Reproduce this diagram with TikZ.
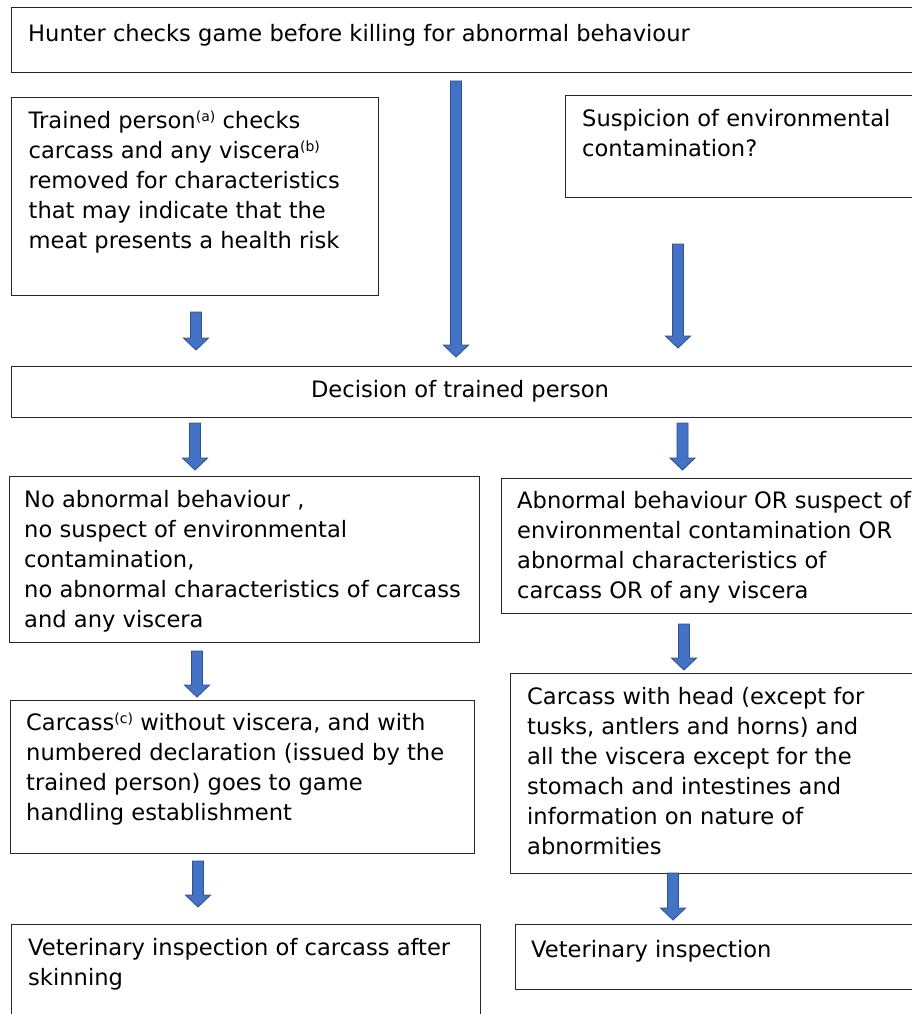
\documentclass[tikz,border=0pt]{standalone}
\usepackage{fontspec}
\setmainfont{DejaVu Sans}
\usetikzlibrary{calc}
\definecolor{arrowfill}{HTML}{4472C4}
\definecolor{arrowline}{HTML}{2F528F}
\definecolor{boxline}{HTML}{262626}
\newcommand{\supnote}[1]{\smash{\raisebox{7pt}{\fontsize{14}{14}\selectfont(#1)}}}
\tikzset{
  box/.style={draw=boxline, line width=1.3pt, inner sep=0pt, anchor=north west},
  txt/.style={inner sep=0pt, anchor=north west, align=left, font=\fontsize{22.6}{30}\selectfont},
  barrow/.style={fill=arrowfill, draw=arrowline, line width=0.9pt, line join=miter,
    to path={let \p1=(\tikztostart), \p2=(\tikztotarget) in
      (\x1-5.5pt,\y1) -- (\x1+5.5pt,\y1) -- (\x1+5.5pt,\y2+12pt) -- (\x1+12.5pt,\y2+12pt)
      -- (\x1,\y2) -- (\x1-12.5pt,\y2+12pt) -- (\x1-5.5pt,\y2+12pt) -- cycle}}
}
\begin{document}
\begin{tikzpicture}[x=1pt,y=-1pt]
\useasboundingbox (0,0) rectangle (912,1014);
\clip (0,0) rectangle (912,1014);
\fill[white] (0,0) rectangle (912,1014);

% boxes
\node[box, minimum width=919pt, minimum height=65pt] (hunt) at (11,7) {};
\node[box, minimum width=367pt, minimum height=198pt] (train) at (11,97) {};
\node[box, minimum width=365pt, minimum height=102pt] (susp) at (565,95) {};
\node[box, minimum width=919pt, minimum height=51pt] (dec) at (11,366) {};
\node[box, minimum width=470pt, minimum height=166pt] (noab) at (9,476) {};
\node[box, minimum width=429pt, minimum height=135pt] (abn) at (501,478) {};
\node[box, minimum width=464pt, minimum height=153pt] (carc) at (10,700) {};
\node[box, minimum width=420pt, minimum height=200pt] (head) at (510,673) {};
\node[box, minimum width=469pt, minimum height=110pt] (vetl) at (11,924) {};
\node[box, minimum width=415pt, minimum height=65pt] (vetr) at (515,924) {};

% texts
\node[txt] (thunt) at (28,24.5) {Hunter checks game before killing for abnormal behaviour};
\node[txt] (ttrain) at (28.5,111) {Trained person\supnote{a} checks\\carcass and any viscera\supnote{b}\\removed for characteristics\\that may indicate that the\\meat presents a health risk};
\node[txt] (tsusp) at (582,109.5) {Suspicion of environmental\\contamination?};
\node[txt, anchor=north, align=center] (tdec) at (460,380.5) {Decision of trained person};
\node[txt] (tnoab) at (24,490) {No abnormal behaviour ,\\no suspect of environmental\\contamination,\\no abnormal characteristics of carcass\\and any viscera};
\node[txt] (tabn) at (517,491) {Abnormal behaviour OR suspect of\\environmental contamination OR\\abnormal characteristics of\\carcass OR of any viscera};
\node[txt] (tcarc) at (26,713.5) {Carcass\supnote{c} without viscera, and with\\numbered declaration (issued by the\\trained person) goes to game\\handling establishment};
\node[txt] (thead) at (527,687) {Carcass with head (except for\\tusks, antlers and horns) and\\all the viscera except for the\\stomach and intestines and\\information on nature of\\abnormities};
\node[txt] (tvetl) at (28,938) {Veterinary inspection of carcass after\\skinning};
\node[txt] (tvetr) at (531,940) {Veterinary inspection};

% arrow end points
\coordinate (a1s) at (196,312);   \coordinate (a1e) at (196,350);
\coordinate (a2s) at (456,81);    \coordinate (a2e) at (456,357);
\coordinate (a3s) at (678,244);   \coordinate (a3e) at (678,348);
\coordinate (a4s) at (195,423);   \coordinate (a4e) at (195,470);
\coordinate (a5s) at (682.5,423); \coordinate (a5e) at (682.5,470);
\coordinate (a6s) at (197,651);   \coordinate (a6e) at (197,697);
\coordinate (a7s) at (684,624);   \coordinate (a7e) at (684,670);
\coordinate (a8s) at (198,861);   \coordinate (a8e) at (198,907);
\coordinate (a9s) at (673,873);   \coordinate (a9e) at (673,920);

\draw[barrow] (a1s) to (a1e);
\draw[barrow] (a2s) to (a2e);
\draw[barrow] (a3s) to (a3e);
\draw[barrow] (a4s) to (a4e);
\draw[barrow] (a5s) to (a5e);
\draw[barrow] (a6s) to (a6e);
\draw[barrow] (a7s) to (a7e);
\draw[barrow] (a8s) to (a8e);
\draw[barrow] (a9s) to (a9e);
\end{tikzpicture}
\end{document}
